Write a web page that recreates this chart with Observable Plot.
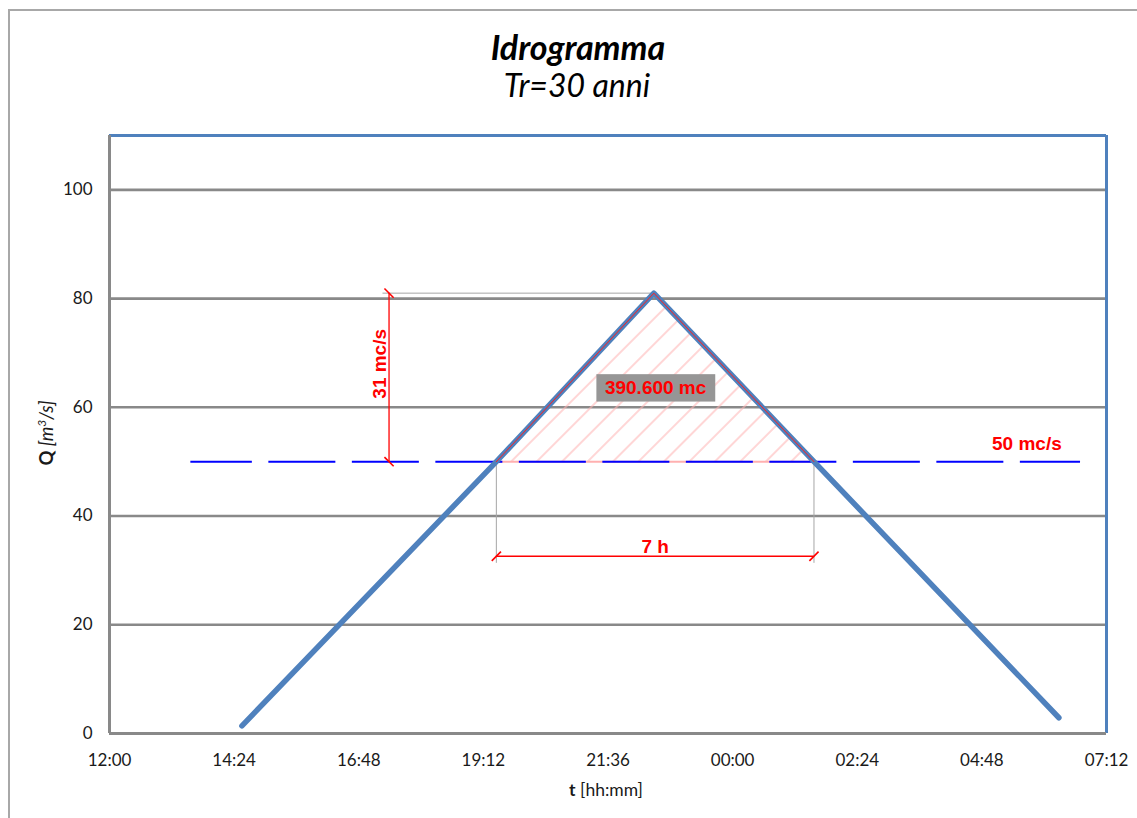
<!DOCTYPE html>
<html>
<head>
<meta charset="utf-8">
<script src="https://cdn.jsdelivr.net/npm/d3@7"></script>
<script src="https://cdn.jsdelivr.net/npm/@observablehq/plot@0.6"></script>
<style>
  body { margin: 0; background: #fff; }
  #wrap { position: relative; width: 1137px; height: 818px; overflow: hidden; }
  #border { position: absolute; left: 8px; top: 9px; right: -10px; bottom: -10px;
            border-top: 2px solid #a8a8a8; border-left: 2px solid #a8a8a8; }
  .ttl { position: absolute; left: 0; width: 1156px; text-align: center; color: #000; font-family: Lato, sans-serif; font-style: italic; }
  #title { top: 30px; font-size: 34px; line-height: 34px; font-weight: bold; }
  #subtitle { top: 69px; font-size: 32px; line-height: 32px; width: 1154px; }
</style>
</head>
<body>
<div id="wrap">
  <div id="border"></div>
  <div id="title" class="ttl"></div>
  <div id="subtitle" class="ttl"></div>
</div>
<script>
// ---------- data ----------
const chartTitle = "Idrogramma";
const chartSubtitle = "Tr=30 anni";
const xTickLabels = ["12:00", "14:24", "16:48", "19:12", "21:36", "00:00", "02:24", "04:48", "07:12"];
const yTicks = [0, 20, 40, 60, 80, 100];
const yLabelParts = ["Q", " [m", "3", "/s]"];
const xLabelParts = ["t", " [hh:mm]"];

// hydrograph vertices (time, discharge m3/s)
const hydroTimes = ["14:33", "19:27", "22:29", "01:34", "06:17"];
const hydroQ = [1.4, 50, 81, 50, 2.9];

// threshold line
const thresholdQ = 50;
const thresholdSpan = ["13:34", "06:42"];
const thresholdLabel = "50 mc/s";
const thresholdLabelTime = "05:40";

// annotations
const peakDimTime = "17:23";
const peakGuideStart = "17:16";
const peakLabel = "31 mc/s";
const peakLabelQ = 68;
const durationQ = 32.6;
const durationGuideQ = 31.3;
const durationLabel = "7 h";
const volumeLabel = "390.600 mc";
const volumeLabelTime = "22:31";
const volumeLabelQ = 63.5;

// ---------- helpers ----------
const hrs = s => { let [h, m] = s.split(":").map(Number); if (h < 12) h += 24; return h + m / 60 - 12; };
const xTicks = xTickLabels.map(hrs);
const hydro = hydroTimes.map((t, i) => ({t: hrs(t), q: hydroQ[i]}));
const excess = hydro.filter(d => d.q >= thresholdQ);
const tCross1 = excess[0].t, tCross2 = excess[excess.length - 1].t;
const peak = excess.reduce((a, b) => (b.q > a.q ? b : a));
const tDim = hrs(peakDimTime);

const slash = {draw(ctx, size) { const a = Math.sqrt(size / Math.PI) / Math.SQRT2; ctx.moveTo(-a, a); ctx.lineTo(a, -a); }};
const backslash = {draw(ctx, size) { const a = Math.sqrt(size / Math.PI) / Math.SQRT2; ctx.moveTo(-a, -a); ctx.lineTo(a, a); }};

const defs = () => {
  const ns = "http://www.w3.org/2000/svg";
  const d = document.createElementNS(ns, "defs");
  const p = document.createElementNS(ns, "pattern");
  p.setAttribute("id", "hatch");
  p.setAttribute("patternUnits", "userSpaceOnUse");
  p.setAttribute("width", "18");
  p.setAttribute("height", "18");
  p.setAttribute("patternTransform", "rotate(45)");
  const l = document.createElementNS(ns, "line");
  l.setAttribute("x1", "9"); l.setAttribute("x2", "9");
  l.setAttribute("y1", "0"); l.setAttribute("y2", "18");
  l.setAttribute("stroke", "#ffb4b4"); l.setAttribute("stroke-width", "1.1");
  p.appendChild(l); d.appendChild(p);
  return d;
};

const annFont = "'Liberation Sans', Arial, sans-serif";

document.getElementById("title").textContent = chartTitle;
document.getElementById("subtitle").textContent = chartSubtitle;

const svg = Plot.plot({
  width: 1137,
  height: 698,
  marginTop: 15,
  marginBottom: 85,
  marginLeft: 109,
  marginRight: 31,
  style: {background: "none", overflow: "visible"},
  x: {domain: [0, 19.2], axis: null},
  y: {domain: [0, 110], axis: null},
  marks: [
    defs,
    Plot.gridY(yTicks.filter(d => d > 0), {stroke: "#898989", strokeOpacity: 1, strokeWidth: 2.6}),
    Plot.areaY(excess, {x: "t", y1: thresholdQ, y2: "q", fill: "url(#hatch)"}),
    Plot.ruleY([thresholdQ], {x1: tCross1, x2: tCross2, stroke: "#ffb0b0", strokeWidth: 2}),
    Plot.ruleY([thresholdQ], {x1: hrs(thresholdSpan[0]), x2: hrs(thresholdSpan[1]), stroke: "#0000ff", strokeWidth: 2, strokeDasharray: "67,16.5", strokeDashoffset: 5.5}),
    Plot.ruleX([tCross1, tCross2], {y1: durationGuideQ, y2: thresholdQ, stroke: "#a6a6a6", strokeWidth: 1}),
    Plot.ruleY([peak.q], {x1: hrs(peakGuideStart), x2: peak.t, stroke: "#a6a6a6", strokeWidth: 1}),
    Plot.line(hydro, {x: "t", y: "q", stroke: "#4f81bd", strokeWidth: 5.5, strokeLinecap: "round", strokeLinejoin: "round"}),
    Plot.line(excess, {x: "t", y: "q", stroke: "#ff2020", strokeWidth: 1}),
    Plot.ruleX([tDim], {y1: thresholdQ, y2: peak.q, stroke: "#ff0000", strokeWidth: 1.3}),
    Plot.ruleY([durationQ], {x1: tCross1, x2: tCross2, stroke: "#ff0000", strokeWidth: 1.3}),
    Plot.dot([{t: tDim, q: thresholdQ}, {t: tDim, q: peak.q}], {x: "t", y: "q", symbol: backslash, r: 6.5, fill: "none", stroke: "#ff0000", strokeWidth: 1.6}),
    Plot.dot([{t: tCross1, q: durationQ}, {t: tCross2, q: durationQ}], {x: "t", y: "q", symbol: slash, r: 6.5, fill: "none", stroke: "#ff0000", strokeWidth: 1.6}),
    Plot.text([peakLabel], {x: tDim, y: peakLabelQ, rotate: -90, lineAnchor: "bottom", textAnchor: "middle", dx: -3, fill: "#ff0000", fontSize: 19, fontWeight: "bold", fontFamily: annFont}),
    Plot.text([durationLabel], {x: (tCross1 + tCross2) / 2, y: durationQ, lineAnchor: "bottom", textAnchor: "middle", dy: -3, fill: "#ff0000", fontSize: 19, fontWeight: "bold", fontFamily: annFont}),
    Plot.text([thresholdLabel], {x: hrs(thresholdLabelTime), y: thresholdQ, lineAnchor: "bottom", textAnchor: "middle", dy: -12, fill: "#ff0000", fontSize: 19, fontWeight: "bold", fontFamily: annFont}),
    Plot.text([volumeLabel], {x: hrs(volumeLabelTime), y: volumeLabelQ, lineAnchor: "middle", textAnchor: "middle", fill: "#ff0000", fontSize: 19, fontWeight: "bold", fontFamily: annFont}),
    // frame
    Plot.ruleY([110], {stroke: "#4f81bd", strokeWidth: 3}),
    Plot.ruleX([19.2], {y1: 0, y2: 110, stroke: "#4f81bd", strokeWidth: 3}),
    Plot.ruleX([0], {y1: 0, y2: 110, stroke: "#898989", strokeWidth: 3}),
    Plot.ruleY([0], {x1: 0, x2: 19.2, stroke: "#898989", strokeWidth: 3}),
    Plot.axisY(yTicks, {tickSize: 0, tickPadding: 17, fontSize: 17, fontFamily: "Lato, sans-serif", fill: "#1a1a1a", label: null}),
    Plot.axisX(xTicks, {tickSize: 0, tickPadding: 20, fontSize: 17, fontFamily: "Lato, sans-serif", fill: "#1a1a1a", label: null,
      tickFormat: d => xTickLabels[xTicks.indexOf(d)]})
  ]
});
svg.style.position = "absolute";
svg.style.left = "0px";
svg.style.top = "120px";
document.getElementById("wrap").appendChild(svg);

const s = d3.select(svg);
// grey box behind the volume label
s.selectAll("text").filter(function () { return this.textContent === volumeLabel; }).each(function () {
  const b = this.getBBox();
  const padX = 8.5, padY = 3.2;
  const r = document.createElementNS("http://www.w3.org/2000/svg", "rect");
  r.setAttribute("x", b.x - padX);
  r.setAttribute("y", b.y - padY);
  r.setAttribute("width", b.width + 2 * padX);
  r.setAttribute("height", b.height + 2 * padY);
  r.setAttribute("fill", "#969696");
  if (this.getAttribute("transform")) r.setAttribute("transform", this.getAttribute("transform"));
  this.parentNode.insertBefore(r, this);
});

// axis titles with mixed styling
const yl = s.append("text")
  .attr("transform", "translate(53,313) rotate(-90)")
  .attr("text-anchor", "middle")
  .attr("font-family", "Lato, sans-serif")
  .attr("font-size", 18.5)
  .attr("fill", "#1a1a1a");
yl.append("tspan").attr("font-weight", "bold").text(yLabelParts[0]);
yl.append("tspan").attr("font-style", "italic").text(yLabelParts[1]);
yl.append("tspan").attr("font-style", "italic").attr("font-size", 12).attr("dy", -7).text(yLabelParts[2]);
yl.append("tspan").attr("font-style", "italic").attr("dy", 7).text(yLabelParts[3]);

const xl = s.append("text")
  .attr("x", 606).attr("y", 676)
  .attr("text-anchor", "middle")
  .attr("font-family", "Lato, sans-serif")
  .attr("font-size", 17.5)
  .attr("fill", "#1a1a1a");
xl.append("tspan").attr("font-weight", "bold").text(xLabelParts[0]);
xl.append("tspan").text(xLabelParts[1]);
</script>
</body>
</html>
